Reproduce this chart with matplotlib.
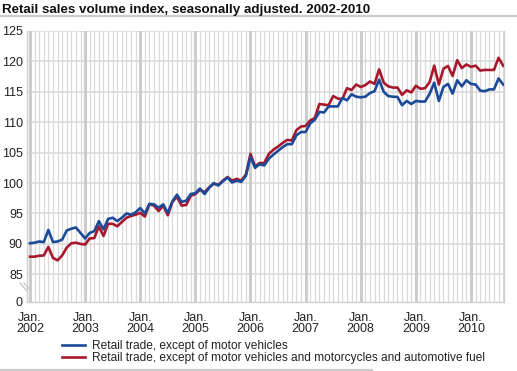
import matplotlib
matplotlib.use("Agg")
import matplotlib.pyplot as plt
from matplotlib.lines import Line2D
import numpy as np
import pandas as pd

plt.rcParams['font.family'] = ['Liberation Sans', 'DejaVu Sans']

months = pd.period_range('2002-01', '2010-08', freq='M')

retail_ex_motor = [
    90.1, 90.2, 90.4, 90.3, 92.3, 90.3, 90.4, 90.7, 92.2, 92.5, 92.7, 91.8,
    90.9, 91.8, 92.1, 93.75, 92.4, 94.1, 94.3, 93.75, 94.3, 95.0, 94.8, 95.2,
    95.9, 95.0, 96.6, 96.5, 95.95, 96.5, 95.1, 97.0, 98.1, 96.9, 97.1, 98.2,
    98.35, 99.1, 98.2, 99.2, 100.0, 99.6, 100.3, 100.9, 100.1, 100.4, 100.2, 101.2,
    104.3, 102.5, 103.1, 102.9, 104.0, 104.7, 105.3, 105.9, 106.4, 106.4, 107.85, 108.4,
    108.4, 109.8, 110.4, 111.7, 111.6, 112.6, 112.6, 112.6, 114.0, 113.6, 114.6, 114.2,
    114.1, 114.2, 114.8, 115.1, 117.0, 115.0, 114.3, 114.2, 114.15, 112.8, 113.5, 113.0,
    113.5, 113.4, 113.4, 114.7, 116.5, 113.5, 115.8, 116.3, 114.7, 116.9, 115.9, 116.9,
    116.3, 116.2, 115.2, 115.1, 115.4, 115.4, 117.2, 116.2,
]

retail_ex_motor_fuel = [
    87.9, 87.9, 88.05, 88.1, 89.5, 87.7, 87.3, 88.1, 89.4, 90.1, 90.2, 90.0,
    89.9, 90.9, 90.95, 92.9, 91.3, 93.3, 93.3, 92.9, 93.6, 94.3, 94.6, 94.8,
    95.1, 94.5, 96.5, 96.3, 95.4, 96.3, 94.7, 96.9, 97.75, 96.3, 96.4, 97.9,
    98.2, 98.9, 98.5, 99.3, 99.9, 99.7, 100.4, 101.0, 100.4, 100.7, 100.4, 101.4,
    104.8, 102.75, 103.3, 103.3, 104.8, 105.5, 106.0, 106.6, 107.1, 107.0, 108.7, 109.3,
    109.4, 110.3, 110.7, 113.0, 112.9, 112.8, 114.3, 113.9, 113.8, 115.6, 115.3, 116.2,
    115.8, 116.1, 116.7, 116.3, 118.7, 116.5, 115.9, 115.7, 115.7, 114.5, 115.25, 114.9,
    116.0, 115.5, 115.6, 116.6, 119.3, 116.2, 118.8, 119.25, 117.6, 120.2, 118.9, 119.5,
    119.1, 119.3, 118.5, 118.6, 118.6, 118.6, 120.6, 119.3,
]

series_labels = [
    "Retail trade, except of motor vehicles",
    "Retail trade, except of motor vehicles and motorcycles and automotive fuel",
]
title = "Retail sales volume index, seasonally adjusted. 2002-2010"
ytick_values = [85, 90, 95, 100, 105, 110, 115, 120, 125]
ytick_labels = ["85", "90", "95", "100", "105", "110", "115", "120", "125"]
zero_label = "0"

W, H = 517, 371
fig = plt.figure(figsize=(W / 100, H / 100), dpi=100)
fig.patch.set_facecolor('white')

left, right, top, bottom = 27, 504.3, 31, 302
ax = fig.add_axes([left / W, 1 - bottom / H, (right - left) / W, (bottom - top) / H])

x = np.arange(len(months))
blue = '#1b4a99'
red = '#a8182c'
ax.plot(x, retail_ex_motor_fuel, color=red, lw=1.9, zorder=3, solid_joinstyle='round')
ax.plot(x, retail_ex_motor, color=blue, lw=1.9, zorder=4, solid_joinstyle='round')

ybot = 80.45
ax.set_xlim(-0.65, len(months) - 1 + 0.25)
ax.set_ylim(ybot, 125)

# grids
grid_c = '#d9d9d9'
for v in ytick_values:
    ax.axhline(v, color=grid_c, lw=1.1, zorder=1)
for i, m in enumerate(months):
    if m.month == 1:
        ax.axvline(i, color='#cccccc', lw=2.2, zorder=1.2)
    else:
        ax.axvline(i, color=grid_c, lw=0.9, zorder=1)

jan_idx = [i for i, m in enumerate(months) if m.month == 1]
ax.set_xticks(jan_idx)
ax.set_xticklabels([f"Jan.\n{months[i].year}" for i in jan_idx], linespacing=0.95)
ax.set_yticks([ybot] + ytick_values)
ax.set_yticklabels([zero_label] + ytick_labels)
ax.tick_params(axis='both', length=0, labelsize=9, colors='#222222')
ax.tick_params(axis='x', pad=7)
ax.tick_params(axis='y', pad=3)

for s in ['left', 'right', 'bottom', 'top']:
    ax.spines[s].set_color('#d0d0d0')
    ax.spines[s].set_linewidth(1.0)
ax.spines['top'].set_visible(False)

# axis break marks
def fy(py):
    return 1 - py / H
for dx in (0, 4):
    fig.add_artist(Line2D([(20 + dx) / W, (27 + dx) / W], [fy(283), fy(291)],
                          color='#c8c8c8', lw=1.0))

# title and separators
fig.text(2 / W, fy(12.5), title, fontsize=9.6, fontweight='bold', color='#111111',
         ha='left', va='baseline')
fig.add_artist(Line2D([0, 1], [fy(15.5), fy(15.5)], color='#cccccc', lw=1.6))
fig.add_artist(Line2D([0, 372 / W], [fy(369.5), fy(369.5)], color='#cccccc', lw=1.6))

handles = [Line2D([], [], color=blue, lw=1.9), Line2D([], [], color=red, lw=1.9)]
fig.legend(handles, series_labels, loc='upper left',
           bbox_to_anchor=(62 / W, fy(340.5)), frameon=False, fontsize=8.6,
           handlelength=1.95, handletextpad=0.55, labelspacing=0.0,
           borderpad=0.0, borderaxespad=0.0, labelcolor='#222222')

fig.savefig('out.png', dpi=100, facecolor='white')
